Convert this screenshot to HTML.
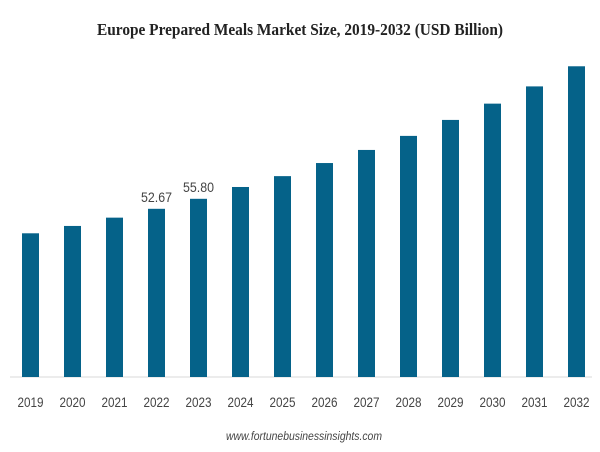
<!DOCTYPE html>
<html><head><meta charset="utf-8"><style>
body{margin:0;background:#fff;}
svg{display:block;}
</style></head><body>
<svg width="600" height="452" viewBox="0 0 600 452">
<text x="300" y="35" text-anchor="middle" textLength="406" lengthAdjust="spacingAndGlyphs" font-family="Liberation Serif, serif" font-weight="bold" font-size="17" fill="#222">Europe Prepared Meals Market Size, 2019-2032 (USD Billion)</text>
<line x1="10" y1="377" x2="592" y2="377" stroke="#d9d9d9" stroke-width="1"/>
<g id="bars"></g>
<g id="labels"></g>
<text x="304" y="440" text-anchor="middle" textLength="156" lengthAdjust="spacingAndGlyphs" font-family="Liberation Sans, sans-serif" font-style="italic" font-size="12" fill="#444">www.fortunebusinessinsights.com</text>
</svg>
<script>
const categories = ["2019","2020","2021","2022","2023","2024","2025","2026","2027","2028","2029","2030","2031","2032"];
const values = [45.0,47.3,49.9,52.67,55.80,59.5,62.9,67.0,71.1,75.5,80.5,85.6,91.0,97.3];
const valueLabels = ["","","","52.67","55.80","","","","","","","","",""];
const baseY = 377, k = 168.2/52.67, x0 = 30.5, step = 42, bw = 17;
function xPos(i){return x0 + i*step;}
function yPos(v){return baseY - v*k;}
const NS="http://www.w3.org/2000/svg";
const bars=document.getElementById('bars'), labels=document.getElementById('labels');
categories.forEach((c,i)=>{
  const r=document.createElementNS(NS,'rect');
  r.setAttribute('x',xPos(i)-bw/2);
  r.setAttribute('y',yPos(values[i]));
  r.setAttribute('width',bw);
  r.setAttribute('height',baseY-yPos(values[i]));
  r.setAttribute('fill','#056289');
  
  
  bars.appendChild(r);
  const t=document.createElementNS(NS,'text');
  t.setAttribute('x',xPos(i));
  t.setAttribute('y',407);
  t.setAttribute('text-anchor','middle');
  t.setAttribute('textLength','26');
  t.setAttribute('lengthAdjust','spacingAndGlyphs');
  t.setAttribute('font-family','Liberation Sans, sans-serif');
  t.setAttribute('font-size','14');
  t.setAttribute('fill','#444');
  
  
  t.textContent=c;
  labels.appendChild(t);
  if(valueLabels[i]){
    const v=document.createElementNS(NS,'text');
    v.setAttribute('x',xPos(i));
    v.setAttribute('y',yPos(values[i])-7);
    v.setAttribute('text-anchor','middle');
    v.setAttribute('textLength','31');
    v.setAttribute('lengthAdjust','spacingAndGlyphs');
    v.setAttribute('font-family','Liberation Sans, sans-serif');
    v.setAttribute('font-size','14');
    v.setAttribute('fill','#444');
    
    
    v.textContent=valueLabels[i];
    labels.appendChild(v);
  }
});
</script>
</body></html>
